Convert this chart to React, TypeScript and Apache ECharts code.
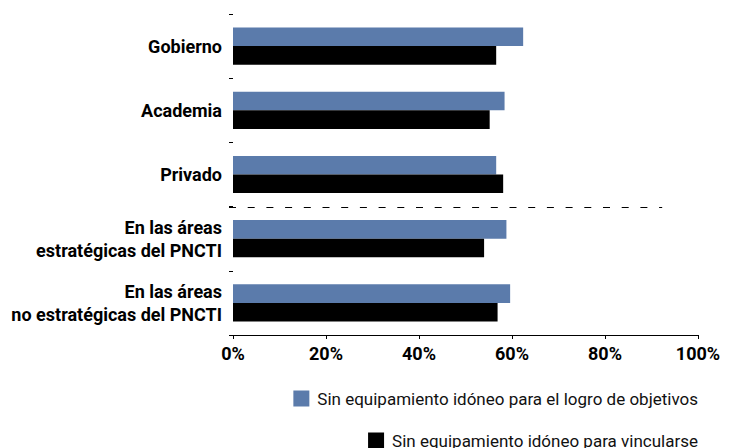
import React, { useEffect, useRef } from "react";
import * as echarts from "echarts";

const categories = [
  "Gobierno",
  "Academia",
  "Privado",
  "En las áreas\nestratégicas del PNCTI",
  "En las áreas\nno estratégicas del PNCTI",
];
const seriesNames = [
  "Sin equipamiento idóneo para el logro de objetivos",
  "Sin equipamiento idóneo para vincularse",
];
const objetivosValues = [62.4, 58.4, 56.6, 58.8, 59.6];
const vincularseValues = [56.6, 55.2, 58.1, 54.0, 56.9];
const xTicks = [0, 20, 40, 60, 80, 100];
// The dashed separator sits between these two groups and stops short of 100%
const separatorBetween = [2, 3];
const separatorEndPct = 92.3;

const FONT = 'Roboto, "Liberation Sans", Arial, sans-serif';
const BLUE = "#5b7bab";

export default function App() {
  const ref = useRef<HTMLDivElement>(null);

  useEffect(() => {
    if (!ref.current) return;
    const chart = echarts.init(ref.current, undefined, { renderer: "svg" });
    const legendText = { fontFamily: FONT, fontSize: 17, color: "#111", padding: [0, 0, 0, 3] };
    chart.setOption({
      animation: false,
      textStyle: { fontFamily: FONT },
      grid: {
        left: 233,
        right: 35,
        top: 14,
        bottom: 113,
        containLabel: false,
        outerBoundsMode: "none",
      },
      xAxis: {
        type: "value",
        min: xTicks[0],
        max: xTicks[xTicks.length - 1],
        interval: 20,
        axisLine: { show: true, lineStyle: { color: "#000", width: 1 } },
        axisTick: { show: true, length: 4, lineStyle: { color: "#000" } },
        splitLine: { show: false },
        axisLabel: {
          formatter: "{value}%",
          color: "#000",
          fontFamily: FONT,
          fontWeight: "bold",
          fontSize: 18,
          margin: 9,
        },
      },
      yAxis: {
        type: "category",
        data: categories,
        inverse: true,
        axisLine: { show: false },
        axisTick: { show: true, length: 4, lineStyle: { color: "#000" } },
        axisLabel: {
          color: "#000",
          fontFamily: FONT,
          fontWeight: "bold",
          fontSize: 18,
          lineHeight: 23,
          align: "right",
          margin: 11,
        },
      },
      legend: [
        {
          data: [seriesNames[0]],
          right: 30,
          top: 385,
          itemWidth: 16,
          itemHeight: 16,
          icon: "rect",
          textStyle: legendText,
        },
        {
          data: [seriesNames[1]],
          right: 30,
          top: 427,
          itemWidth: 16,
          itemHeight: 16,
          icon: "rect",
          textStyle: legendText,
        },
      ],
      series: [
        {
          name: seriesNames[0],
          type: "bar",
          data: objetivosValues,
          itemStyle: { color: BLUE },
          barCategoryGap: "42%",
          barGap: "0%",
        },
        {
          name: seriesNames[1],
          type: "bar",
          data: vincularseValues,
          itemStyle: { color: "#000" },
          barCategoryGap: "42%",
          barGap: "0%",
        },
      ],
    });

    // Dashed separator line between the sector groups and the PNCTI groups
    const yA = chart.convertToPixel({ yAxisIndex: 0 }, categories[separatorBetween[0]]) as number;
    const yB = chart.convertToPixel({ yAxisIndex: 0 }, categories[separatorBetween[1]]) as number;
    const x0 = chart.convertToPixel({ xAxisIndex: 0 }, 0) as number;
    const x1 = chart.convertToPixel({ xAxisIndex: 0 }, separatorEndPct) as number;
    const y = Math.round((yA + yB) / 2) + 0.5;
    chart.setOption({
      graphic: [
        {
          type: "line",
          shape: { x1: x0 - 4, y1: y, x2: x1, y2: y },
          style: { stroke: "#000", lineWidth: 1, lineDash: [7, 11.7] },
          z: 10,
        },
      ],
    });

    return () => chart.dispose();
  }, []);

  return <div ref={ref} style={{ width: 733, height: 448, position: "absolute", left: 0, top: 0 }} />;
}
